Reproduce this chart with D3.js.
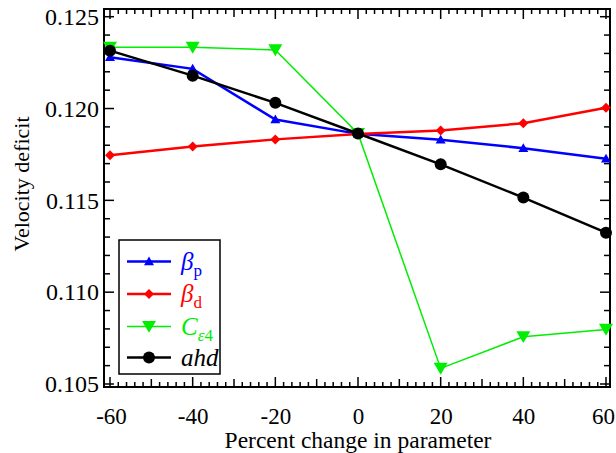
<!DOCTYPE html>
<html><head><meta charset="utf-8">
<script src="https://cdn.jsdelivr.net/npm/d3@7/dist/d3.min.js"></script>
<style>body{margin:0;background:#fff}svg{display:block}</style>
</head><body>
<script>
const xValues = [-60, -40, -20, 0, 20, 40, 60];
const betaP = [0.12279, 0.12216, 0.11940, 0.11862, 0.11830, 0.11784, 0.11727];
const betaD = [0.11745, 0.11793, 0.11832, 0.11861, 0.11880, 0.11920, 0.12004];
const cEps4 = [0.12333, 0.12333, 0.12319, 0.11864, 0.10585, 0.10757, 0.10797];
const ahd = [0.12315, 0.12179, 0.12031, 0.11864, 0.11696, 0.11515, 0.11324];
const xTicks = [-60, -40, -20, 0, 20, 40, 60];
const yTicks = [0.105, 0.110, 0.115, 0.120, 0.125];
const xLabel = "Percent change in parameter";
const yLabel = "Velocity deficit";

const FONT = "Liberation Serif";
const W = 616, H = 453;
const frame = {left: 104, right: 610, top: 9, bottom: 387};
const svg = d3.select("body").append("svg").attr("width", W).attr("height", H)
  .attr("font-family", FONT);

const x = d3.scaleLinear().domain([-60, 60]).range([110, 606]);
const y = d3.scaleLinear().domain([0.105, 0.125]).range([384, 16.7]);

const g = svg.append("g");

const xMinor = d3.range(-60, 60.001, 2);
xMinor.forEach(v => {
  const len = (Math.abs(v) % 20 === 0) ? 10 : (Math.abs(v) % 10 === 0 ? 8 : 5);
  const px = x(v);
  g.append("line").attr("x1", px).attr("x2", px).attr("y1", frame.bottom).attr("y2", frame.bottom - len).attr("stroke", "#000").attr("stroke-width", 1.5);
  g.append("line").attr("x1", px).attr("x2", px).attr("y1", frame.top).attr("y2", frame.top + len).attr("stroke", "#000").attr("stroke-width", 1.5);
});
const yMinor = d3.range(0, 21).map(i => 0.105 + i * 0.001);
yMinor.forEach((v, i) => {
  const len = (i % 5 === 0) ? 10 : 6;
  const py = y(v);
  g.append("line").attr("x1", frame.left).attr("x2", frame.left + len).attr("y1", py).attr("y2", py).attr("stroke", "#000").attr("stroke-width", 1.5);
  g.append("line").attr("x1", frame.right).attr("x2", frame.right - len).attr("y1", py).attr("y2", py).attr("stroke", "#000").attr("stroke-width", 1.5);
});

g.append("rect").attr("x", frame.left).attr("y", frame.top).attr("width", frame.right - frame.left).attr("height", frame.bottom - frame.top)
  .attr("fill", "none").attr("stroke", "#000").attr("stroke-width", 2);

const xAxis = svg.append("g").attr("transform", `translate(0,${frame.bottom})`)
  .call(d3.axisBottom(x).tickValues(xTicks).tickSize(0).tickPadding(0).tickFormat(d => String(d)));
xAxis.attr("font-family", FONT).attr("font-size", 23);
xAxis.select(".domain").remove();
xAxis.selectAll("text").attr("dy", null).attr("y", 37)
  .attr("dx", d => d === 60 ? -3 : (d === -60 ? 1 : 0))
  .attr("fill", "#000");

const yAxis = svg.append("g").attr("transform", `translate(${frame.left},0)`)
  .call(d3.axisLeft(y).tickValues(yTicks).tickSize(0).tickPadding(5).tickFormat(d3.format(".3f")));
yAxis.attr("font-family", FONT).attr("font-size", 24);
yAxis.select(".domain").remove();
yAxis.selectAll("text").attr("fill", "#000");

svg.append("text").attr("x", 358).attr("y", 448).attr("text-anchor", "middle")
  .attr("font-size", 23.5).text(xLabel);
svg.append("text").attr("transform", `translate(29,184) rotate(-90)`).attr("text-anchor", "middle")
  .attr("font-size", 22).text(yLabel);

const series = [
  {name: "betaP", values: betaP, color: "#0000ff", width: 2.5, marker: "up"},
  {name: "betaD", values: betaD, color: "#ff0000", width: 2.5, marker: "diamond"},
  {name: "cEps4", values: cEps4, color: "#00ee00", width: 1.5, marker: "down"},
  {name: "ahd", values: ahd, color: "#000000", width: 2.5, marker: "circle"}
];

function drawMarker(sel, type, cx, cy, color) {
  if (type === "circle") {
    sel.append("circle").attr("cx", cx).attr("cy", cy).attr("r", 6).attr("fill", color);
  } else if (type === "up") {
    const s = 5;
    sel.append("path").attr("d", `M${cx},${cy - s} L${cx + s},${cy + s * 0.75} L${cx - s},${cy + s * 0.75}Z`).attr("fill", color);
  } else if (type === "down") {
    const s = 7;
    sel.append("path").attr("d", `M${cx - s},${cy - s * 0.8} L${cx + s},${cy - s * 0.8} L${cx},${cy + s * 0.9}Z`).attr("fill", color);
  } else if (type === "diamond") {
    const s = 5;
    sel.append("path").attr("d", `M${cx},${cy - s} L${cx + s},${cy} L${cx},${cy + s} L${cx - s},${cy}Z`).attr("fill", color);
  }
}

const line = d3.line().x((d, i) => x(xValues[i])).y(d => y(d));
series.forEach(s => {
  const sg = svg.append("g");
  sg.append("path").attr("d", line(s.values)).attr("fill", "none").attr("stroke", s.color).attr("stroke-width", s.width);
  s.values.forEach((v, i) => drawMarker(sg, s.marker, x(xValues[i]), y(v), s.color));
});

const lg = svg.append("g");
lg.append("rect").attr("x", 119).attr("y", 240).attr("width", 101).attr("height", 134)
  .attr("fill", "#fff").attr("stroke", "#000").attr("stroke-width", 1.5);
const legendRows = [261.5, 294, 326.5, 357.5];
series.forEach((s, i) => {
  const yy = legendRows[i];
  lg.append("line").attr("x1", 127).attr("x2", 171).attr("y1", yy).attr("y2", yy).attr("stroke", s.color).attr("stroke-width", s.width);
  drawMarker(lg, s.marker, 149, yy, s.color);
});
function legText(yy, color, main, sub) {
  const t = lg.append("text").attr("x", 181).attr("y", yy + 8).attr("fill", color).attr("font-size", 25);
  t.append("tspan").attr("font-style", "italic").text(main);
  if (sub) t.append("tspan").attr("font-size", 17).attr("dy", 6).text(sub);
  return t;
}
legText(legendRows[0], "#0000ff", "β", "p");
legText(legendRows[1], "#ff0000", "β", "d");
{
  const t = lg.append("text").attr("x", 181).attr("y", legendRows[2] + 8).attr("fill", "#00ee00").attr("font-size", 25);
  t.append("tspan").attr("font-style", "italic").text("C");
  t.append("tspan").attr("font-size", 17).attr("dy", 6).attr("font-style", "italic").text("ε");
  t.append("tspan").attr("font-size", 17).text("4");
}
legText(legendRows[3], "#000000", "ahd", null);
</script>
</body></html>
